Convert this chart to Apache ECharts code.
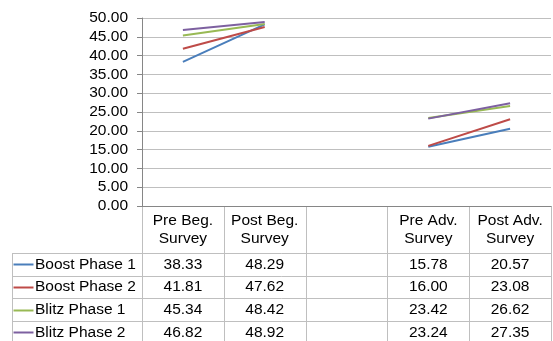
<!DOCTYPE html>
<html>
<head>
<meta charset="utf-8">
<script src="https://cdn.jsdelivr.net/npm/echarts@6/dist/echarts.min.js"></script>
<style>
  html, body { margin: 0; padding: 0; background: #ffffff; }
  #chart { width: 553px; height: 341px; }
</style>
</head>
<body>
<div id="chart"></div>
<script>
// Survey columns; the empty slot separates the beginner and advanced surveys
const categories = ['Pre Beg.\nSurvey', 'Post Beg.\nSurvey', '', 'Pre Adv.\nSurvey', 'Post Adv.\nSurvey'];
const seriesNames = ['Boost Phase 1', 'Boost Phase 2', 'Blitz Phase 1', 'Blitz Phase 2'];
const boostPhase1 = [38.33, 48.29, null, 15.78, 20.57];
const boostPhase2 = [41.81, 47.62, null, 16.00, 23.08];
const blitzPhase1 = [45.34, 48.42, null, 23.42, 26.62];
const blitzPhase2 = [46.82, 48.92, null, 23.24, 27.35];
const colors = ['#4A7EBB', '#BE4B48', '#98B954', '#7D60A0'];
const yTicks = { min: 0, max: 50, interval: 5 };

const seriesData = [boostPhase1, boostPhase2, blitzPhase1, blitzPhase2];
const FONT = '"Liberation Sans", Arial, sans-serif';
const GRID_LINE = '#BFBFBF';
const AXIS_LINE = '#868686';

const chart = echarts.init(document.getElementById('chart'), null, { renderer: 'canvas' });

chart.setOption({
  animation: false,
  grid: { left: 142, right: 2, top: 18, bottom: 135, containLabel: false },
  xAxis: {
    type: 'category',
    data: categories,
    boundaryGap: true,
    axisLine: { lineStyle: { color: AXIS_LINE, width: 1 } },
    axisTick: { show: false },
    axisLabel: { show: false },
    splitLine: { show: false }
  },
  yAxis: {
    type: 'value',
    min: yTicks.min,
    max: yTicks.max,
    interval: yTicks.interval,
    axisLine: { show: true, lineStyle: { color: AXIS_LINE, width: 1 } },
    axisTick: { show: true, length: 5, lineStyle: { color: AXIS_LINE } },
    axisLabel: {
      margin: 14,
      color: '#000000',
      fontFamily: FONT,
      fontSize: 15.5,
      formatter: v => v.toFixed(2)
    },
    splitLine: { lineStyle: { color: GRID_LINE, width: 1 } }
  },
  series: seriesData.map((d, i) => ({
    name: seriesNames[i],
    type: 'line',
    data: d,
    symbol: 'none',
    connectNulls: false,
    lineStyle: { color: colors[i], width: 2 },
    itemStyle: { color: colors[i] }
  }))
});

// Data table under the plot, aligned to the category bands
function drawTable() {
  const cx = categories.map((c, i) => chart.convertToPixel({ xAxisIndex: 0 }, i));
  const band = cx[1] - cx[0];
  const top = chart.convertToPixel({ yAxisIndex: 0 }, yTicks.min);
  const headerH = 47;
  const rowH = 22.7;
  const legendLeft = 12.5;
  const left = cx[0] - band / 2;
  const right = cx[cx.length - 1] + band / 2;
  const bottom = top + headerH + rowH * seriesNames.length;
  const els = [];
  const line = (x1, y1, x2, y2) => els.push({
    type: 'line', silent: true,
    shape: { x1, y1, x2, y2 },
    style: { stroke: GRID_LINE, lineWidth: 1 }
  });
  const text = (x, y, str, align) => els.push({
    type: 'text', silent: true, x, y,
    style: {
      text: str, fill: '#000000', font: '15.5px ' + FONT,
      align: align, verticalAlign: 'middle', lineHeight: 18
    }
  });

  // vertical column borders
  for (let i = 0; i <= categories.length; i++) {
    const x = Math.round(left + band * i) + 0.5;
    line(x, top, x, bottom);
  }
  line(legendLeft, top + headerH, legendLeft, bottom);
  // horizontal row borders
  for (let r = 0; r <= seriesNames.length; r++) {
    const y = Math.round(top + headerH + rowH * r) + 0.5;
    line(legendLeft, y, right, y);
  }
  // header cells
  categories.forEach((c, i) => { if (c) text(cx[i], top + headerH / 2, c, 'center'); });
  // series rows
  seriesNames.forEach((name, r) => {
    const yMid = top + headerH + rowH * r + rowH / 2;
    els.push({
      type: 'line', silent: true,
      shape: { x1: legendLeft + 1, y1: Math.round(yMid) + 0.5, x2: legendLeft + 21, y2: Math.round(yMid) + 0.5 },
      style: { stroke: colors[r], lineWidth: 2 }
    });
    text(legendLeft + 22.5, yMid, name, 'left');
    seriesData[r].forEach((v, i) => {
      if (v !== null) text(cx[i], yMid, v.toFixed(2), 'center');
    });
  });
  chart.setOption({ graphic: els });
}
drawTable();
</script>
</body>
</html>
